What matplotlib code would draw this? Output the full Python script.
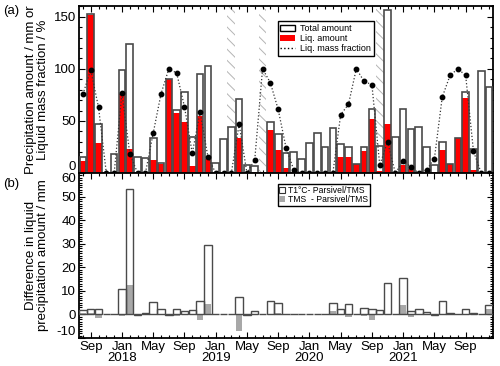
import matplotlib
matplotlib.use("Agg")
import matplotlib.pyplot as plt
import numpy as np
from matplotlib.patches import Patch
from matplotlib.lines import Line2D

plt.rcParams['font.family'] = ['Liberation Sans', 'DejaVu Sans']
plt.rcParams['hatch.linewidth'] = 0.7
plt.rcParams['hatch.color'] = '#b4b4b4'
plt.rcParams['axes.unicode_minus'] = False

# Months: Aug 2017 ... Dec 2021 (index 0..52)
months = ['Aug', 'Sep', 'Oct', 'Nov', 'Dec', 'Jan', 'Feb', 'Mar', 'Apr', 'May', 'Jun', 'Jul'] * 5
months = months[:53]

total_amount = [15.7, 153, 47, 0, 18, 98.6, 123.4, 15.7, 14.2, 34, 10, 89.9, 60.6, 77.6, 34.8, 94.7, 102.4,
                9.3, 32.5, 44.4, 71.2, 7.7, 6.8, 0, 48.6, 37.4, 19, 20.6, 13.8, 29.3, 38, 25, 42.8,
                27.7, 25, 8.4, 25, 61.5, 26, 156.5, 34.8, 61.5, 42.2, 44.4, 25, 7.7, 30.2, 9, 34,
                77.3, 22.9, 97.9, 83]
liq_amount = [11.6, 151.7, 29.3, 0, 0, 76, 23.5, 0, 0, 12.3, 8.4, 89.9, 58, 49, 6.4, 55, 13.8,
              0, 0, 0, 33.5, 0, 0.9, 0, 41.2, 22.2, 4.5, 0.6, 0, 0, 0, 0, 0,
              15.8, 15.8, 8.4, 21.3, 51.5, 2, 47, 0, 7.7, 3.5, 0, 0.7, 1.1, 21.9, 9, 34,
              71.8, 2.6, 0, 0]
liq_fraction = [75.6, 99, 63, 0, 0, 76.6, 18.7, 0, 0, 38.3, 76, 100, 96, 63.8, 19, 58.6, 15.8,
                0, 0, 0, 47, 0, 12.9, 100, 86.6, 61, 24.5, 3, 0, 0, 0, 0, 0,
                56, 66, 100, 88, 84.7, 7.7, 30, 0, 11.6, 6, 0, 3, 14, 72.8, 93.7, 100,
                93.7, 21, 0, 0]
hatched_months = [19, 23, 38]

diff_t1 = [1.7, 2.1, 2.4, 0, 0.3, 10.7, 53.4, -0.2, 0.6, 5.4, 2.1, -0.3, 2.5, 1.6, 1.7, 5.6, 29.4,
           0, 0, 0, 7.5, -0.2, 1.4, 0, 5.9, 4.7, 0, 0.4, 0, 0, 0, 0.4, 4.7,
           2.1, 4.4, 0, 2.6, 2.5, 1.8, 13.3, 0.3, 15.4, 1.5, 2.3, 1.1, -0.3, 5.6, 0.7, 0.1,
           2.3, 0.7, 0, 3.8]
diff_tms = [0.8, 0.5, -1.4, 0, 0, -0.7, 12.4, 0, 0, 0, 0, 0, -0.6, 0, 0, -2.4, 4.4,
            0, 0, 0, -7.1, 0, 0, 0, 0, 0.5, 0, 0, 0, 0, 0, 0, 1.3,
            0, -1.1, 0, -0.5, -2.3, 0, 0, 0, 3.8, -1.1, 0, 0, 0, 0, 0, 0,
            0, 0, 0, 2.1]

tick_idx = [1, 5, 9, 13, 17, 21, 25, 29, 33, 37, 41, 45, 49]
tick_labels = ['Sep', 'Jan\n2018', 'May', 'Sep', 'Jan\n2019', 'May', 'Sep', 'Jan\n2020',
               'May', 'Sep', 'Jan\n2021', 'May', 'Sep']

x = np.arange(len(total_amount))
edge = '#4a4a4a'

fig = plt.figure(figsize=(5, 3.66), dpi=100)
ax1 = fig.add_axes([0.158, 0.527, 0.828, 0.456])
ax2 = fig.add_axes([0.158, 0.0765, 0.828, 0.4505])

# ---- panel (a)
for h in hatched_months:
    ax1.axvspan(h - 0.5, h + 0.5, facecolor='none', edgecolor='#b4b4b4', hatch='\\' * 3, lw=0, zorder=1)
ax1.bar(x, total_amount, width=0.85, color='white', zorder=2)
ax1.bar(x, liq_amount, width=0.85, color='#ff0000', zorder=3)
ax1.bar(x, total_amount, width=0.85, facecolor='none', edgecolor=edge, lw=1.2, zorder=4)
ax1.plot(x, liq_fraction, ls=':', color='#333333', lw=0.9, marker='o', ms=3.2,
         mfc='black', mec='black', zorder=5, clip_on=False)
ax1.set_ylim(0, 160)
ax1.set_xlim(-0.5, 52.5)
ax1.set_yticks([0, 50, 100, 150])
ax1.set_yticks(np.arange(0, 161, 10), minor=True)
ax1.set_xticks(tick_idx)
ax1.set_xticks(x, minor=True)
ax1.set_xticklabels([])
ax1.set_ylabel('Precipitation amount / mm or\nLiquid mass fraction / %', fontsize=9.5, labelpad=2, linespacing=0.95)

leg1 = ax1.legend(handles=[Patch(facecolor='white', edgecolor='black', lw=1),
                           Patch(facecolor='#ff0000', edgecolor='none'),
                           Line2D([], [], ls=':', color='black', lw=1)],
                  labels=['Total amount', 'Liq. amount', 'Liq. mass fraction'],
                  loc='upper left', bbox_to_anchor=(0.48, 0.91), fontsize=6.5, frameon=True,
                  fancybox=False, edgecolor='black', framealpha=1, borderpad=0.3,
                  labelspacing=0.12, handlelength=1.6, handleheight=0.6, handletextpad=0.6,
                  borderaxespad=0)
leg1.get_frame().set_linewidth(1.0)
leg1.set_zorder(10)

# ---- panel (b)
ax2.bar(x, diff_t1, width=0.95, color='white', zorder=2)
ax2.bar(x, diff_tms, width=0.8, color='#a8a8a8', zorder=3)
ax2.bar(x, diff_t1, width=0.95, facecolor='none', edgecolor=edge, lw=1.0, zorder=4)
ax2.set_ylim(-10, 60)
ax2.set_xlim(-0.5, 52.5)
ax2.set_yticks(np.arange(-10, 61, 10))
ax2.set_yticks(np.arange(-10, 61, 1), minor=True)
ax2.set_xticks(tick_idx)
ax2.set_xticks(x, minor=True)
ax2.set_xticklabels(tick_labels, fontsize=9.5, linespacing=0.9)
ax2.set_ylabel('Difference in liquid\nprecipitation amount / mm', fontsize=9.5, labelpad=2, linespacing=0.95)

leg2 = ax2.legend(handles=[Patch(facecolor='white', edgecolor='#333333', lw=0.8),
                           Patch(facecolor='#a8a8a8', edgecolor='none')],
                  labels=['T1°C- Parsivel/TMS', 'TMS  - Parsivel/TMS'],
                  loc='upper left', bbox_to_anchor=(0.48, 0.935), fontsize=6.2, frameon=True,
                  fancybox=False, edgecolor='black', framealpha=1, borderpad=0.2,
                  labelspacing=0.1, handlelength=0.7, handleheight=0.7, handletextpad=0.3,
                  borderaxespad=0)
leg2.get_frame().set_linewidth(1.0)

for ax in (ax1, ax2):
    for s in ax.spines.values():
        s.set_linewidth(1.3)
    ax.tick_params(which='both', direction='in', top=True, right=True, labelsize=9.5, width=0.8, pad=2)
    ax.tick_params(which='major', length=4.5)
    ax.tick_params(which='minor', length=2.5)

# squeeze the touching end labels like the reference
fig.canvas.draw()
ax1.get_yticklabels()[0].set_va('bottom')
ax2.get_yticklabels()[-1].set_va('top')
ax2.get_yticklabels()[0].set_va('bottom')

ax1.yaxis.set_label_coords(-0.073, 0.5)
ax2.yaxis.set_label_coords(-0.073, 0.5)

fig.text(0.006, 0.985, '(a)', fontsize=9.5, va='top', ha='left')
fig.text(0.006, 0.515, '(b)', fontsize=9.5, va='top', ha='left')

fig.savefig('out.png', dpi=100)
